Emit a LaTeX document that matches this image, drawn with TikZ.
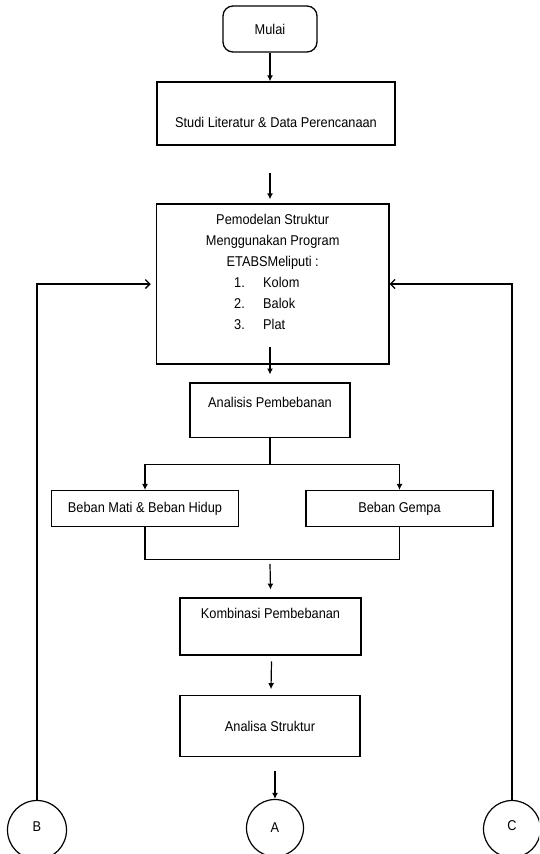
\documentclass[tikz,border=0pt]{standalone}
\usepackage{fontspec}
\setmainfont{Liberation Sans}[FakeStretch=0.9]
\usetikzlibrary{arrows.meta,calc}
\begin{document}
\begin{tikzpicture}[x=1pt,y=-1pt,
  every node/.style={font=\fontsize{14.2}{21}\selectfont},
  box/.style={draw, line width=1.3pt, inner sep=0pt},
  lbl/.style={inner sep=0pt, align=center, font=\fontsize{14.2}{21}\selectfont},
  arr/.style={line width=1.2pt, -{Latex[length=6pt,width=6pt]}},
  barb/.style={line width=1.2pt, -{Straight Barb[length=4.5pt,width=9pt,line width=1.3pt]}},
  link/.style={line width=1.2pt},
  conn/.style={draw, circle, line width=1.2pt, inner sep=0pt}]
\useasboundingbox (0,0) rectangle (539,854);
\clip (0,0) rectangle (539,854);

% boxes
\node[box, rounded corners=10pt, minimum width=94pt, minimum height=46pt] (mulai) at (270,29) {Mulai};
\node[box, minimum width=238pt, minimum height=63pt,
      label={[lbl, yshift=-8.5pt]center:{Studi Literatur \& Data Perencanaan}}] (studi) at (276,113.5) {};
\node[box, minimum width=232.6pt, minimum height=160pt,
      label={[lbl, anchor=north, yshift=-11pt]north:{Pemodelan Struktur\\Menggunakan Program\\ETABSMeliputi :\\
        \makebox[77pt][l]{\makebox[29pt][l]{1.}Kolom}\\
        \makebox[77pt][l]{\makebox[29pt][l]{2.}Balok}\\
        \makebox[77pt][l]{\makebox[29pt][l]{3.}Plat}}}] (pem) at (272.7,284) {};
\node[box, minimum width=160pt, minimum height=54.3pt,
      label={[lbl, yshift=8pt]center:{Analisis Pembebanan}}] (ana) at (270,410) {};
\node[box, minimum width=187pt, minimum height=36pt] (mati) at (145,508.6) {Beban Mati \& Beban Hidup};
\node[box, minimum width=187pt, minimum height=36pt] (gempa) at (399.5,508.6) {Beban Gempa};
\node[box, minimum width=181pt, minimum height=57pt,
      label={[lbl, yshift=13.4pt]center:{Kombinasi Pembebanan}}] (komb) at (270.5,626.4) {};
\node[box, minimum width=180pt, minimum height=61pt] (analisa) at (270,726) {Analisa Struktur};

% connectors (circles)
\node[conn, minimum size=57pt] (A) at (275,828) {\raisebox{-3pt}{A}};
\node[conn, minimum size=59pt] (B) at (37,830) {\raisebox{7pt}{B}};
\node[conn, minimum size=57pt] (C) at (512,829) {\raisebox{6pt}{C}};

% arrows
\draw[arr] (mulai.south) -- (mulai.south |- studi.north);
\draw[arr] ($(studi.south -| ana)+(0,27)$) -- ($(pem.north -| ana)+(0,-4)$);
\draw[arr] ($(pem.south -| ana)+(0,-17.3)$) -- ($(ana.north)+(0,-7.7)$);

\coordinate (split) at ($(ana.south)+(0,27)$);
\draw[link] (ana.south) -- (split);
\draw[arr] (split) -| (mati.north);
\draw[arr] (split) -| (gempa.north);

\coordinate (merge) at ($(ana.south)+(0,122)$);
\draw[link] (mati.south) |- (merge) -| (gempa.south);
\draw[arr] ($(merge)+(0,4)$) -- ($(komb.north)+(0,-7.7)$);

\draw[arr] ($(komb.south)+(1,5.7)$) -- ($(analisa.north)+(1,-5.7)$);
\draw[arr] ($(analisa.south -| A)+(0,14)$) -- (A.north);

\draw[barb] (B.north) |- ($(pem.west)+(-5,0)$);
\draw[barb] (C.north) |- (pem.east);
\end{tikzpicture}
\end{document}
